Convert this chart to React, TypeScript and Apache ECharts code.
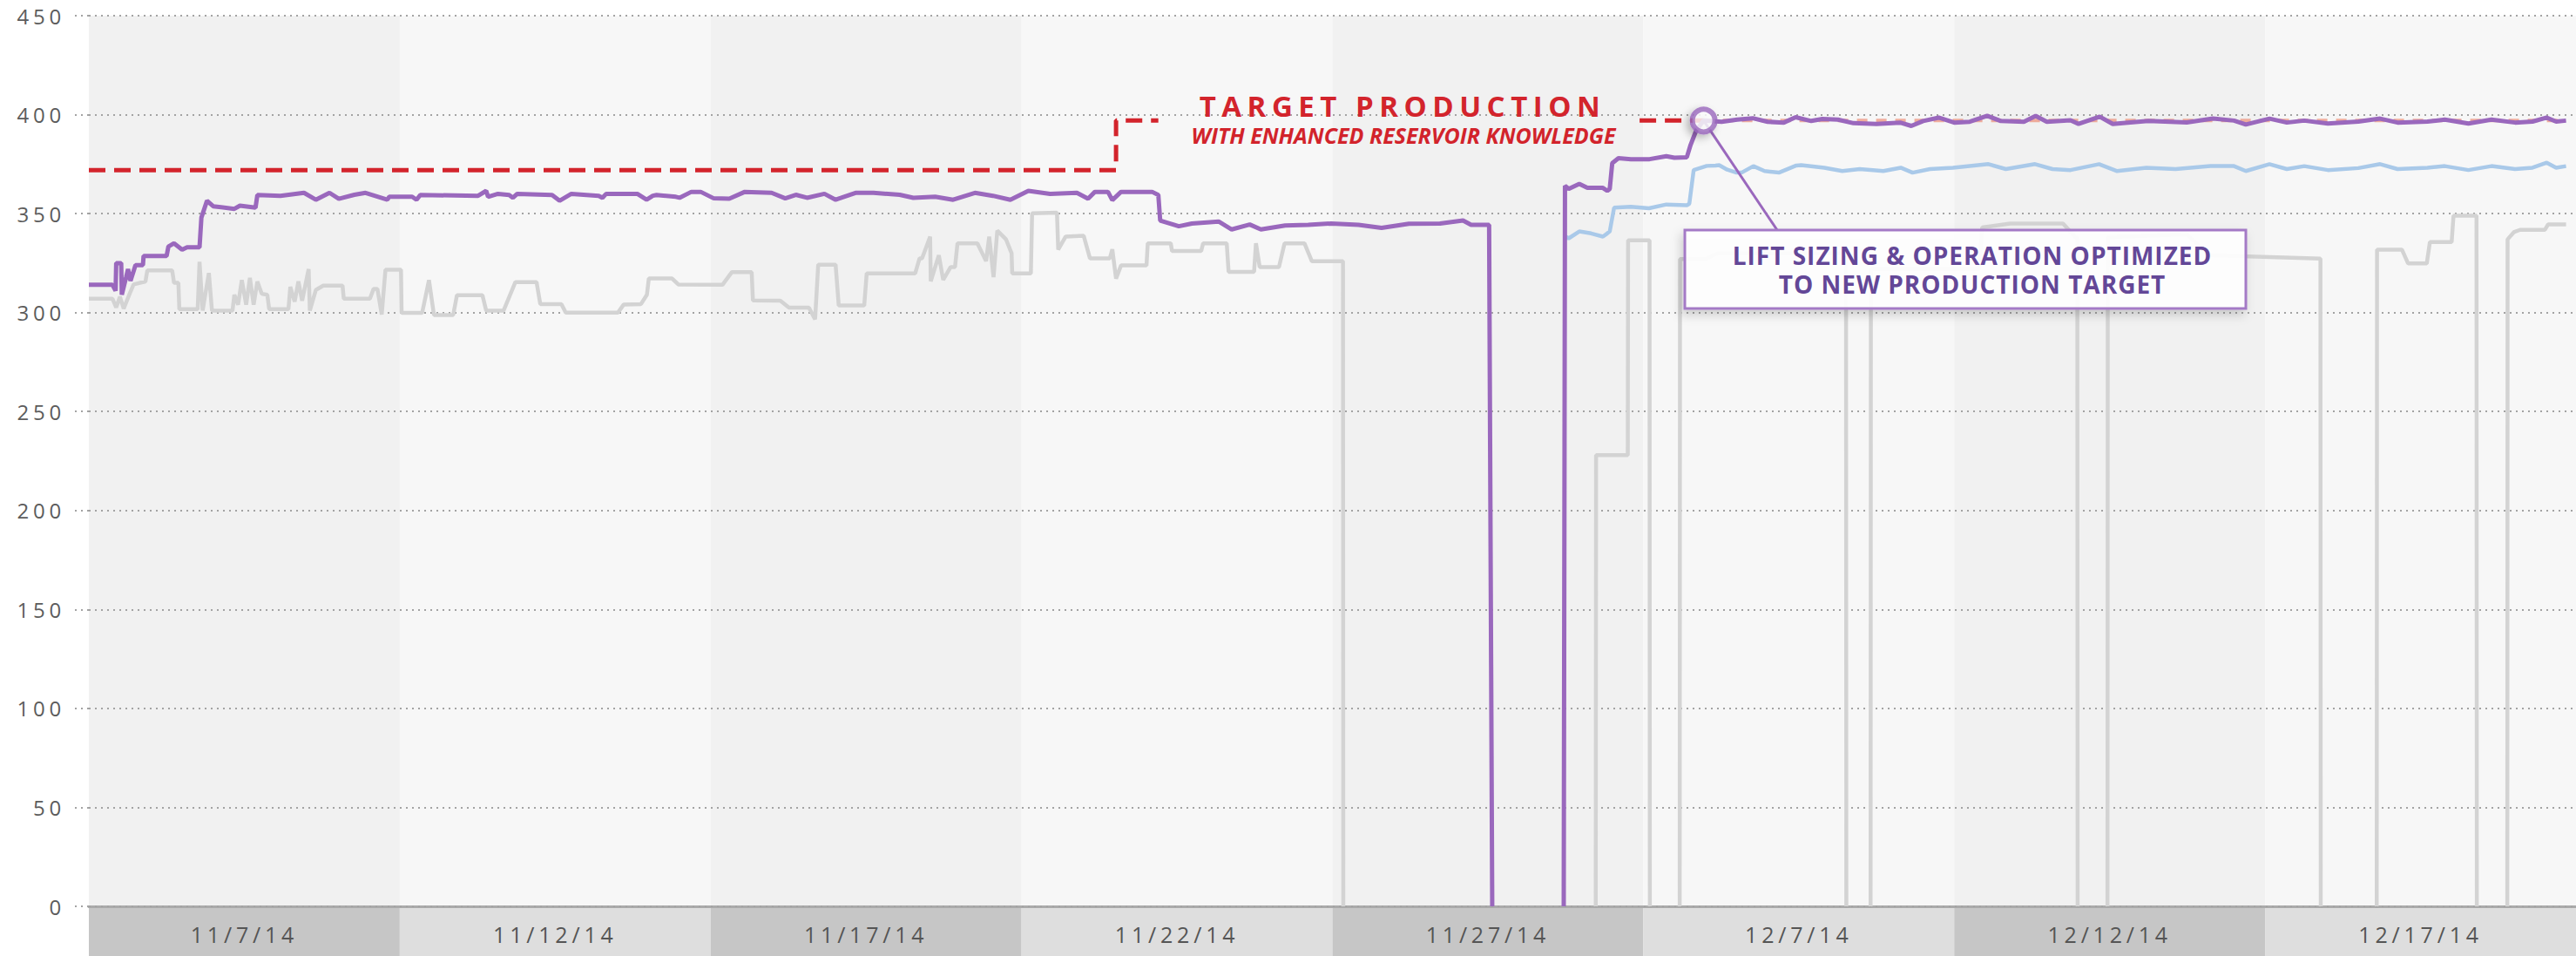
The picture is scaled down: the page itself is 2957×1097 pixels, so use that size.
import React, { useEffect, useRef } from 'react';
import * as echarts from 'echarts';

// x values are days from the left edge of the plot (each date band = 5 days)
const dateLabels = ['11/7/14', '11/12/14', '11/17/14', '11/22/14', '11/27/14', '12/7/14', '12/12/14', '12/17/14'];

const grayFlow: (number | string)[][] = [
  [0, 307], [0.38, 307], [0.44, 302.6], [0.5, 308], [0.56, 302], [0.66, 309.8], [0.72, 314.2], [0.91, 315.7],
  [0.94, 321.3], [1.34, 321.3], [1.37, 315], [1.44, 315], [1.455, 301.7], [1.75, 301.7], [1.78, 325.7], [1.83, 301],
  [1.93, 320], [1.98, 301], [2.31, 301], [2.34, 309], [2.4, 304], [2.46, 316.4], [2.53, 304], [2.59, 317.5],
  [2.65, 304], [2.71, 315.7], [2.78, 309.5], [2.87, 309], [2.9, 301.7], [3.21, 301.7], [3.24, 313], [3.31, 305.5],
  [3.37, 315.7], [3.43, 306], [3.535, 322], [3.554, 301], [3.65, 311.4], [3.77, 313.6], [4.08, 313.6], [4.1, 307],
  [4.52, 307], [4.58, 312], [4.64, 312], [4.71, 299], [4.77, 321.6], [5.02, 321.6], [5.03, 299.8], [5.36, 299.8],
  [5.47, 316.4], [5.55, 298.8], [5.86, 298.8], [5.92, 308.8], [6.33, 308.8], [6.39, 301], [6.67, 301], [6.86, 315.4],
  [7.2, 315.4], [7.26, 304.3], [7.6, 304.3], [7.67, 300], [8.51, 300], [8.6, 304], [8.88, 304.3], [8.975, 309],
  [9.006, 317.2], [9.38, 317.2], [9.48, 314.2], [10.19, 314], [10.34, 320.4], [10.66, 320.4], [10.68, 306.1],
  [11.12, 306], [11.26, 302.5], [11.58, 302.5], [11.68, 296.6], [11.73, 324.2], [12.01, 324.2], [12.06, 303.6],
  [12.47, 303.6], [12.51, 319.8], [13.29, 319.8], [13.36, 327.4], [13.4, 327.4], [13.53, 338.4], [13.54, 315.8],
  [13.67, 329], [13.74, 316.5], [13.86, 323], [13.93, 323], [13.97, 335], [14.29, 335], [14.43, 326], [14.48, 338.4],
  [14.55, 317.9], [14.61, 341.4], [14.75, 337], [14.84, 330], [14.85, 319.8], [15.15, 319.8], [15.17, 350.2],
  [15.57, 350.5], [15.59, 331.8], [15.71, 338.4], [16.0, 338.8], [16.1, 327.4], [16.42, 327.4], [16.46, 332],
  [16.52, 317.2], [16.6, 323.8], [17.01, 323.8], [17.03, 335], [17.4, 335], [17.42, 331.1], [17.89, 331.1],
  [17.92, 335], [18.3, 335], [18.33, 320.6], [18.74, 320.6], [18.77, 335], [18.83, 323], [19.14, 323], [19.23, 335],
  [19.55, 335], [19.67, 325.9], [20.17, 325.9], [20.175, 0], [22, '-'],
  [24.235, 0], [24.24, 228], [24.75, 228], [24.755, 336.5], [25.1, 336.5], [25.105, 0], [25.3, '-'],
  [25.585, 0], [25.59, 327], [26.0, 327], [26.2, 330], [28.26, 330], [28.265, 0], [28.4, '-'],
  [28.655, 0], [28.66, 322], [30.4, 322], [30.45, 343], [30.9, 345], [31.75, 345], [31.95, 338], [31.98, 338],
  [31.985, 0], [32.2, '-'],
  [32.465, 0], [32.47, 338], [33.74, 339.5], [34.1, 329], [35.89, 327.3], [35.895, 0], [36.3, '-'],
  [36.795, 0], [36.8, 331.8], [37.2, 331.8], [37.3, 324.8], [37.6, 324.8], [37.65, 335.6], [38.0, 335.6],
  [38.03, 348.9], [38.4, 348.9], [38.405, 0], [38.6, '-'],
  [38.895, 0], [38.9, 337], [39.0, 340.6], [39.1, 341.8], [39.5, 341.8], [39.55, 344.5], [39.84, 344.5],
];

const purpleFlow: (number | string)[][] = [
  [0, 314], [0.38, 314], [0.43, 311], [0.44, 325], [0.52, 325], [0.53, 309], [0.6, 318], [0.63, 322], [0.67, 316],
  [0.75, 324], [0.87, 324], [0.88, 328.6], [1.25, 328.6], [1.28, 333.4], [1.37, 335], [1.5, 331.8], [1.58, 333],
  [1.78, 333], [1.81, 348], [1.9, 356.5], [2.0, 353.7], [2.34, 352.4], [2.43, 354], [2.68, 353], [2.71, 359.4],
  [3.08, 359], [3.46, 360.5], [3.65, 357], [3.87, 360.5], [4.02, 357.5], [4.27, 359.5], [4.45, 360.5], [4.8, 357],
  [4.83, 358.5], [5.2, 358.5], [5.27, 357], [5.33, 359.4], [6.26, 359], [6.39, 361.5], [6.42, 358.5], [6.58, 360],
  [6.76, 359.4], [6.82, 358], [6.89, 360], [7.45, 359.4], [7.57, 356.5], [7.76, 360], [8.2, 359], [8.26, 358],
  [8.32, 360], [8.82, 360], [8.97, 357], [9.07, 359], [9.13, 359.4], [9.44, 358.5], [9.5, 358], [9.69, 361],
  [9.84, 361], [10.05, 357.7], [10.3, 357.5], [10.55, 361], [10.98, 360.5], [11.2, 357.7], [11.37, 359.5],
  [11.55, 358], [11.83, 360], [12.01, 357], [12.33, 360.5], [12.62, 360.5], [13.04, 359.5], [13.26, 358],
  [13.61, 358.5], [13.9, 357], [14.25, 360.5], [14.54, 359], [14.82, 357], [15.11, 361.5], [15.46, 360],
  [15.89, 360.5], [16.07, 357.5], [16.18, 361], [16.39, 361], [16.46, 356.8], [16.6, 361], [17.1, 361],
  [17.2, 359.4], [17.23, 346.5], [17.53, 343.6], [17.74, 345], [18.17, 346], [18.38, 342], [18.67, 344.5],
  [18.85, 342], [19.24, 344], [19.61, 344.3], [19.98, 345], [20.42, 344.3], [20.79, 342.8], [21.23, 344.9],
  [21.73, 345], [22.1, 346.5], [22.23, 344.3], [22.52, 344.3], [22.57, 0], [23, '-'],
  [23.72, 0], [23.74, 364], [23.8, 362.5], [23.97, 365], [24.1, 363], [24.35, 363], [24.42, 361.5], [24.46, 362.5],
  [24.5, 375.5], [24.6, 378], [24.8, 377.5], [25.1, 377.5], [25.37, 379], [25.5, 378.2], [25.7, 378.5],
  [25.76, 384.7], [25.85, 392], [25.97, 397], [26.26, 396.4], [26.51, 397.5], [26.76, 398.2], [27.0, 396.4],
  [27.26, 396], [27.45, 398.7], [27.7, 396.8], [27.88, 397.8], [28.13, 397.5], [28.38, 395.7], [28.75, 395.3],
  [29.13, 396], [29.31, 394.3], [29.5, 396.8], [29.75, 398.5], [30.0, 396], [30.25, 396.4], [30.53, 399.4],
  [30.75, 396.8], [31.12, 396.4], [31.31, 399.4], [31.49, 396.4], [31.87, 397.2], [32.0, 395.3], [32.34, 399],
  [32.55, 395.3], [33.12, 396.8], [33.74, 396.1], [34.16, 398], [34.5, 397], [34.69, 395], [35.07, 398],
  [35.35, 396], [35.63, 397], [36.01, 395.5], [36.5, 396.5], [36.85, 398], [37.13, 396], [37.61, 396.5],
  [37.89, 397.5], [38.27, 395.5], [38.64, 397.5], [39.02, 396], [39.3, 396.5], [39.53, 398.5], [39.68, 396.5],
  [39.84, 397],
];

const blueFlow: number[][] = [
  [23.72, 339], [23.8, 337.5], [23.97, 341], [24.16, 340], [24.35, 338.4], [24.42, 340], [24.46, 341],
  [24.53, 353], [24.8, 353.5], [25.09, 352.7], [25.37, 354.6], [25.7, 354.2], [25.74, 355], [25.81, 372],
  [26.02, 374.1], [26.16, 374.3], [26.22, 374.5], [26.35, 372.2], [26.5, 370.7], [26.58, 370.7], [26.77, 374],
  [26.95, 371.5], [27.18, 370.7], [27.46, 374.3], [27.54, 374.5], [27.91, 373.2], [28.2, 371.5], [28.48, 372.5],
  [28.86, 371.5], [29.14, 373.2], [29.33, 370.7], [29.61, 372.5], [29.98, 373.2], [30.55, 375], [30.83, 372.5],
  [31.3, 375], [31.58, 372.5], [31.87, 372], [32.33, 375], [32.62, 371.5], [33.09, 373.2], [33.56, 372.5],
  [34.12, 374], [34.5, 374], [34.69, 371.5], [35.07, 375], [35.35, 372.5], [35.63, 374], [36.01, 372],
  [36.5, 373], [36.85, 375], [37.13, 372.5], [37.61, 373.2], [37.89, 374], [38.27, 372], [38.64, 374],
  [39.02, 372.5], [39.3, 373.2], [39.53, 375.7], [39.68, 373.2], [39.84, 374],
];

const targetLine: (number | string)[][] = [
  [0, 372], [16.52, 372], [16.52, 397], [17.2, 397], [20, '-'], [24.94, 397], [25.97, 397],
];
const targetAfter: number[][] = [[25.97, 397], [39.84, 397]];
const markerPoint: number[][] = [[25.97, 397]];

const PURPLE = '#9a68bd';
const css = `
#chartroot text { letter-spacing: 4.8px; }
#chartroot text[fill="#d3242c"] { letter-spacing: 6.5px; }
#chartroot text[fill="#d2232b"] { letter-spacing: 0px; }
#chartroot text[fill="#634797"] { letter-spacing: 1px; }
`;

export default function App() {
  const ref = useRef<HTMLDivElement>(null);
  useEffect(() => {
    document.body.style.margin = '0';
    const chart = echarts.init(ref.current!, undefined, { renderer: 'svg' });
    const dotted = { color: '#a3a3a3', width: 2, type: [2, 5] as number[] };
    const lineBase = { type: 'line', xAxisIndex: 0, yAxisIndex: 0, showSymbol: false, symbol: 'none', connectNulls: false, silent: true };
    chart.setOption({
      animation: false,
      backgroundColor: '#ffffff',
      grid: [
        { left: 102, top: 18, width: 2866, height: 1022 },
        { left: 102, top: 1040, width: 2866, height: 57 },
      ],
      xAxis: [
        {
          type: 'value', gridIndex: 0, min: 0, max: 40, interval: 5, z: 1,
          axisLabel: { show: false }, axisTick: { show: false }, splitLine: { show: false },
          splitArea: { show: true, areaStyle: { color: ['#f1f1f1', '#f7f7f7'] } },
          axisLine: { show: true, onZero: false, lineStyle: { color: '#aaaaaa', width: 3 } },
        },
        {
          type: 'category', gridIndex: 1, data: dateLabels, position: 'top', boundaryGap: true, z: 0,
          axisLine: { show: false }, axisTick: { show: false }, splitLine: { show: false },
          axisLabel: { inside: true, interval: 0, margin: 32, verticalAlign: 'middle', color: '#555555', fontSize: 25, fontFamily: 'Open Sans' },
          splitArea: { show: true, interval: 0, areaStyle: { color: ['#c6c6c6', '#dedede'] } },
        },
      ],
      yAxis: [
        {
          type: 'value', gridIndex: 0, min: 0, max: 450, interval: 50, z: 2,
          axisLine: { show: false },
          axisTick: { show: true, length: 19, lineStyle: dotted },
          splitLine: { show: true, lineStyle: dotted },
          axisLabel: { color: '#5c5c5c', fontSize: 24, fontFamily: 'Open Sans', margin: 27 },
        },
        { type: 'value', gridIndex: 1, min: 0, max: 1, show: false },
      ],
      series: [
        { ...lineBase, name: 'Gray', data: grayFlow, z: 3, lineStyle: { color: '#d3d3d3', width: 4.5 } },
        { ...lineBase, name: 'Blue', data: blueFlow, z: 4, lineStyle: { color: '#a9c9e9', width: 4.5 } },
        { ...lineBase, name: 'TargetAfter', data: targetAfter, z: 5, lineStyle: { color: '#ee9a86', width: 4, type: [12, 10], opacity: 0.8 } },
        { ...lineBase, name: 'Target', data: targetLine, z: 5, lineStyle: { color: '#d3242c', width: 5, type: [19, 10] } },
        { ...lineBase, name: 'Purple', data: purpleFlow, z: 6, lineStyle: { color: PURPLE, width: 5 } },
        {
          type: 'scatter', xAxisIndex: 0, yAxisIndex: 0, data: markerPoint, symbol: 'circle', symbolSize: 26, z: 8, silent: true,
          itemStyle: { color: '#ffffff', borderColor: PURPLE, borderWidth: 6, shadowBlur: 10, shadowColor: 'rgba(0,0,0,0.3)', shadowOffsetX: -4, shadowOffsetY: 4 },
        },
      ],
    });
    const p = chart.convertToPixel({ gridIndex: 0 }, markerPoint[0]) as number[];
    chart.setOption({
      graphic: {
        elements: [
          { type: 'line', z: 7, shape: { x1: p[0], y1: p[1], x2: 2040, y2: 264 }, style: { stroke: PURPLE, lineWidth: 3 } },
          {
            type: 'text', x: 1610, y: 121, z: 30,
            style: { text: 'TARGET PRODUCTION', fill: '#d3242c', fontSize: 33, lineHeight: 30, fontWeight: 'bold', fontFamily: 'Open Sans', align: 'center', verticalAlign: 'middle' },
          },
          {
            type: 'text', x: 1611, y: 155, z: 30,
            style: { text: 'WITH ENHANCED RESERVOIR KNOWLEDGE', fill: '#d2232b', fontSize: 25, lineHeight: 26, fontWeight: 'bold', fontStyle: 'italic', fontFamily: 'Open Sans', align: 'center', verticalAlign: 'middle' },
          },
          {
            type: 'rect', z: 20, shape: { x: 1934, y: 264, width: 644, height: 90 },
            style: { fill: 'rgba(255,255,255,0.93)', stroke: '#a47ac6', lineWidth: 3, shadowBlur: 12, shadowOffsetX: -3, shadowOffsetY: 6, shadowColor: 'rgba(0,0,0,0.18)' },
          },
          {
            type: 'text', x: 2264, y: 293, z: 21,
            style: { text: 'LIFT SIZING & OPERATION OPTIMIZED', fill: '#634797', fontSize: 28, lineHeight: 30, fontWeight: 'bold', fontFamily: 'Open Sans', align: 'center', verticalAlign: 'middle' },
          },
          {
            type: 'text', x: 2264, y: 326, z: 21,
            style: { text: 'TO NEW PRODUCTION TARGET', fill: '#634797', fontSize: 28, lineHeight: 30, fontWeight: 'bold', fontFamily: 'Open Sans', align: 'center', verticalAlign: 'middle' },
          },
        ],
      },
    });
    return () => chart.dispose();
  }, []);
  return (
    <div>
      <style>{css}</style>
      <div id="chartroot" ref={ref} style={{ width: 2957, height: 1097, background: '#ffffff' }} />
    </div>
  );
}
